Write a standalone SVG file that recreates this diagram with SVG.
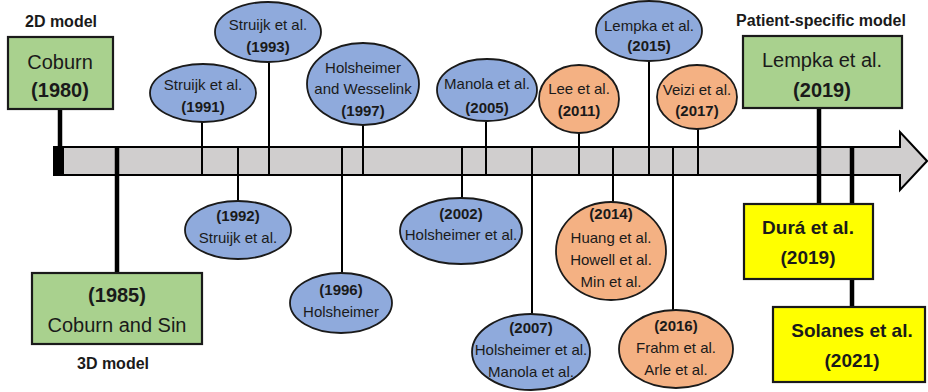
<svg xmlns="http://www.w3.org/2000/svg" width="928" height="392" viewBox="0 0 928 392">
<style>
text{font-family:"Liberation Sans",Arial,sans-serif;text-anchor:middle;dominant-baseline:central;fill:#1a1a1a}
.s{font-size:15px}
.b{font-weight:bold}
.L{font-size:20px}
.M{font-size:19px}
.h{font-size:16px;font-weight:bold}
.blue{fill:#8FAADC;stroke:#1a1a1a;stroke-width:1.8}
.or{fill:#F4B183;stroke:#1a1a1a;stroke-width:1.8}
.gr{fill:#A9D18E;stroke:#1a1a1a;stroke-width:2.2}
.ye{fill:#FFFF00;stroke:#1a1a1a;stroke-width:2.2}
.thin{stroke:#000;stroke-width:2;fill:none}
.thick{stroke:#000;stroke-width:4.5;fill:none}
</style>
<g id="timeline">
<path d="M54,147 H900 V132 L927,161 L900,190 V175 H54 Z" fill="#D0CECE" stroke="#000" stroke-width="2"/>
<rect x="54" y="147" width="10" height="28" fill="#000"/>
</g>
<g id="connectors">
<line class="thick" x1="60" y1="109" x2="60" y2="147"/>
<line class="thick" x1="117" y1="147" x2="117" y2="273"/>
<line class="thin" x1="202" y1="122" x2="202" y2="175"/>
<line class="thin" x1="238" y1="147" x2="238" y2="201"/>
<line class="thin" x1="269" y1="62" x2="269" y2="175"/>
<line class="thin" x1="342" y1="147" x2="342" y2="274"/>
<line class="thin" x1="363" y1="125" x2="363" y2="175"/>
<line class="thin" x1="462" y1="147" x2="462" y2="198"/>
<line class="thin" x1="486" y1="122" x2="486" y2="175"/>
<line class="thin" x1="532" y1="147" x2="532" y2="315"/>
<line class="thin" x1="579" y1="133" x2="579" y2="175"/>
<line class="thin" x1="613" y1="147" x2="613" y2="203"/>
<line class="thin" x1="649" y1="61" x2="649" y2="175"/>
<line class="thin" x1="673" y1="147" x2="673" y2="310"/>
<line class="thin" x1="698" y1="129" x2="698" y2="175"/>
<line class="thick" x1="819" y1="108" x2="819" y2="204"/>
<line class="thick" x1="852" y1="147" x2="852" y2="307"/>
</g>
<g id="coburn1980">
<rect class="gr" x="8" y="37" width="105" height="72"/>
<text class="L" x="60" y="62">Coburn</text>
<text class="L b" x="60" y="90">(1980)</text>
</g>
<g id="label2d"><text class="h" x="61" y="21">2D model</text></g>
<g id="coburn1985">
<rect class="gr" x="32" y="273" width="170" height="71"/>
<text class="L b" x="117" y="295">(1985)</text>
<text class="L" x="117" y="325">Coburn and Sin</text>
</g>
<g id="label3d"><text class="h" x="113" y="363">3D model</text></g>
<g id="struijk1991">
<ellipse class="blue" cx="203" cy="93" rx="53" ry="29"/>
<text class="s" x="203" y="84">Struijk et al.</text>
<text class="s b" x="203" y="106">(1991)</text>
</g>
<g id="struijk1993">
<ellipse class="blue" cx="268" cy="32" rx="53" ry="30"/>
<text class="s" x="268" y="24">Struijk et al.</text>
<text class="s b" x="268" y="46">(1993)</text>
</g>
<g id="struijk1992">
<ellipse class="blue" cx="238" cy="230" rx="53" ry="29"/>
<text class="s b" x="238" y="215">(1992)</text>
<text class="s" x="238" y="237">Struijk et al.</text>
</g>
<g id="holsheimer1997">
<ellipse class="blue" cx="363" cy="84" rx="56" ry="41"/>
<text class="s" x="363" y="67">Holsheimer</text>
<text class="s" x="363" y="88">and Wesselink</text>
<text class="s b" x="363" y="110">(1997)</text>
</g>
<g id="holsheimer1996">
<ellipse class="blue" cx="341" cy="303" rx="51" ry="30"/>
<text class="s b" x="341" y="289">(1996)</text>
<text class="s" x="341" y="311">Holsheimer</text>
</g>
<g id="manola2005">
<ellipse class="blue" cx="487" cy="90" rx="50" ry="31"/>
<text class="s" x="487" y="83">Manola et al.</text>
<text class="s b" x="487" y="107">(2005)</text>
</g>
<g id="holsheimer2002">
<ellipse class="blue" cx="461" cy="231" rx="61" ry="33"/>
<text class="s b" x="461" y="213">(2002)</text>
<text class="s" x="461" y="234">Holsheimer et al.</text>
</g>
<g id="holsheimer2007">
<ellipse class="blue" cx="531" cy="352" rx="59" ry="38"/>
<text class="s b" x="531" y="327">(2007)</text>
<text class="s" x="531" y="349">Holsheimer et al.</text>
<text class="s" x="531" y="371">Manola et al.</text>
</g>
<g id="lee2011">
<ellipse class="or" cx="579" cy="99" rx="40" ry="34"/>
<text class="s" x="579" y="88">Lee et al.</text>
<text class="s b" x="579" y="110">(2011)</text>
</g>
<g id="huang2014">
<ellipse class="or" cx="611" cy="251" rx="55" ry="49"/>
<text class="s b" x="611" y="213">(2014)</text>
<text class="s" x="611" y="237">Huang et al.</text>
<text class="s" x="611" y="259">Howell et al.</text>
<text class="s" x="611" y="281">Min et al.</text>
</g>
<g id="lempka2015">
<ellipse class="blue" cx="649" cy="31" rx="53" ry="30"/>
<text class="s" x="649" y="25">Lempka et al.</text>
<text class="s b" x="649" y="45">(2015)</text>
</g>
<g id="frahm2016">
<ellipse class="or" cx="676" cy="349" rx="57" ry="39"/>
<text class="s b" x="676" y="325">(2016)</text>
<text class="s" x="676" y="347">Frahm et al.</text>
<text class="s" x="676" y="369">Arle et al.</text>
</g>
<g id="veizi2017">
<ellipse class="or" cx="697" cy="97" rx="40" ry="32"/>
<text class="s" x="697" y="89">Veizi et al.</text>
<text class="s b" x="697" y="110">(2017)</text>
</g>
<g id="labelPatient"><text class="h" x="821" y="20">Patient-specific model</text></g>
<g id="lempka2019">
<rect class="gr" x="743" y="36" width="159" height="72"/>
<text class="L" x="822" y="60">Lempka et al.</text>
<text class="L b" x="822" y="90">(2019)</text>
</g>
<g id="dura2019">
<rect class="ye" x="744" y="204" width="129" height="75"/>
<text class="M b" x="808" y="227">Durá et al.</text>
<text class="M b" x="808" y="257">(2019)</text>
</g>
<g id="solanes2021">
<rect class="ye" x="773" y="307" width="152" height="75"/>
<text class="M b" x="852" y="330">Solanes et al.</text>
<text class="M b" x="852" y="360">(2021)</text>
</g>
</svg>
